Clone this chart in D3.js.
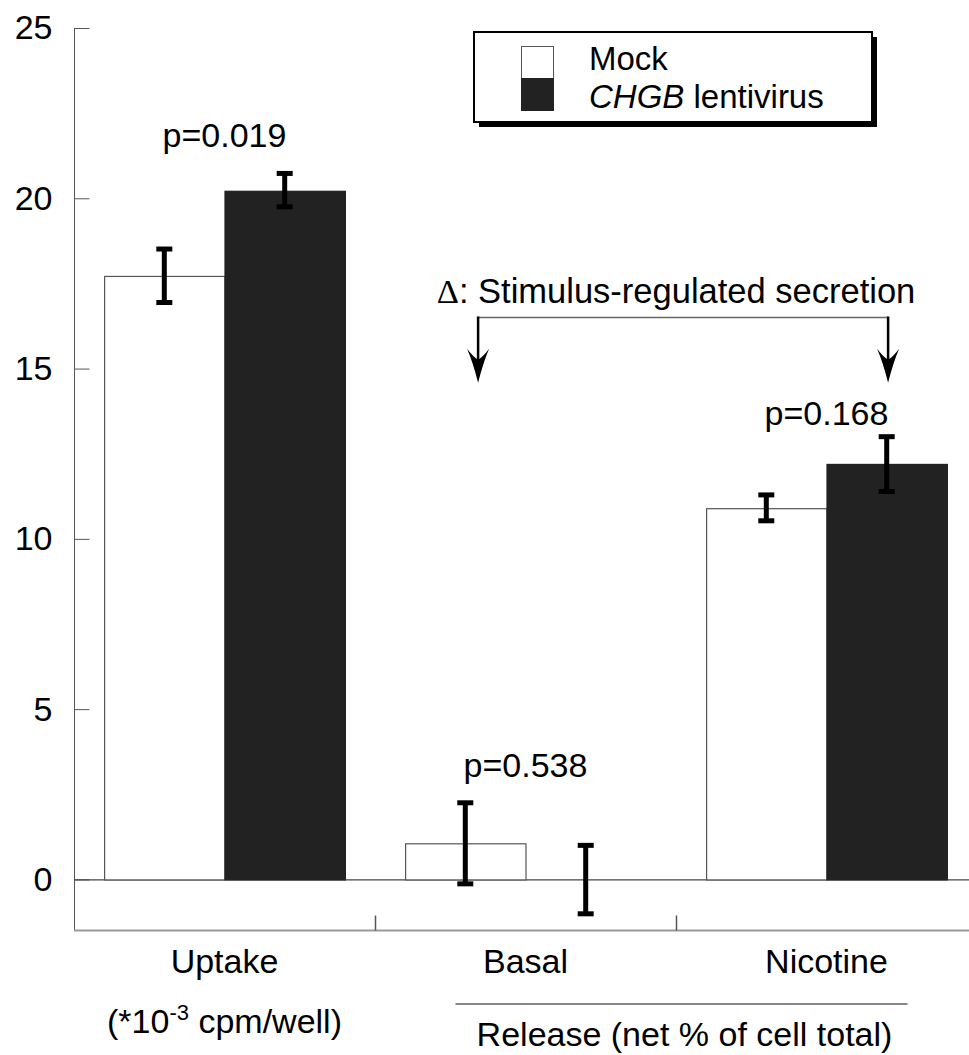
<!DOCTYPE html>
<html>
<head>
<meta charset="utf-8">
<script src="https://cdn.jsdelivr.net/npm/d3@7"></script>
<style>
  html, body { margin: 0; padding: 0; background: #fff; }
  svg { display: block; }
  text { font-family: "Liberation Sans", Arial, Helvetica, sans-serif; fill: #000; }
</style>
</head>
<body>
<div id="chart"></div>
<script>
// ---- data ----
const categories = ["Uptake", "Basal", "Nicotine"];
const seriesNames = ["Mock", "CHGB lentivirus"];
const mockValues = [17.72, 1.06, 10.9];
const mockErrLow = [16.94, -0.13, 10.53];
const mockErrHigh = [18.51, 2.25, 11.29];
const chgbValues = [20.22, 0.0, 12.2];
const chgbErrLow = [19.75, -1.01, 11.39];
const chgbErrHigh = [20.73, 1.0, 13.0];
const pValues = ["p=0.019", "p=0.538", "p=0.168"];
const yTicks = [0, 5, 10, 15, 20, 25];

// ---- layout ----
const W = 969, H = 1055;
const svg = d3.select("#chart").append("svg").attr("width", W).attr("height", H);

const x = d3.scaleBand().domain(categories).range([74, 977]).paddingInner(0.2).paddingOuter(0.1);
const xs = d3.scaleBand().domain(seriesNames).range([0, x.bandwidth()]);
const y = d3.scaleLinear().domain([-1.5, 25]).range([930.5, 28]);

const fontSize = 34;

// y axis
const yAxis = d3.axisLeft(y).tickValues(yTicks).tickSize(-15).tickPadding(22).tickSizeOuter(0);
const gy = svg.append("g").attr("transform", "translate(74.5,0)").call(yAxis);
gy.select(".domain").attr("stroke", "#555").attr("d", `M0,${y(25)}V${y(-1.5)}`);
gy.selectAll(".tick line").attr("stroke", "#555");
gy.selectAll(".tick text").attr("font-size", fontSize).attr("font-family", '"Liberation Sans", Arial, sans-serif').attr("fill", "#000");

// bottom axis line and separators
svg.append("line").attr("x1", 74).attr("x2", W).attr("y1", y(-1.5)).attr("y2", y(-1.5))
  .attr("stroke", "#999").attr("stroke-width", 2);
const seps = categories.slice(1).map(c => x(c) - x.step() * x.paddingInner() / 2);
svg.selectAll(".sep").data(seps).enter().append("line")
  .attr("x1", d => d + 0.5).attr("x2", d => d + 0.5)
  .attr("y1", y(-1.5)).attr("y2", y(-1.5) - 15)
  .attr("stroke", "#555").attr("stroke-width", 1.5);

// zero line
svg.append("line").attr("x1", 74).attr("x2", W).attr("y1", y(0) + 0.5).attr("y2", y(0) + 0.5)
  .attr("stroke", "#444").attr("stroke-width", 1.2);

// bars
const rows = categories.map((c, i) => ({
  cat: c,
  vals: [
    { s: seriesNames[0], v: mockValues[i], lo: mockErrLow[i], hi: mockErrHigh[i] },
    { s: seriesNames[1], v: chgbValues[i], lo: chgbErrLow[i], hi: chgbErrHigh[i] }
  ]
}));
const fills = { "Mock": "#fff", "CHGB lentivirus": "#222" };
const strokes = { "Mock": "#555", "CHGB lentivirus": "#222" };

const groups = svg.selectAll(".grp").data(rows).enter().append("g")
  .attr("transform", d => `translate(${x(d.cat)},0)`);

groups.selectAll("rect").data(d => d.vals.filter(v => v.v !== 0)).enter().append("rect")
  .attr("x", d => xs(d.s) + 0.5)
  .attr("width", xs.bandwidth())
  .attr("y", d => Math.min(y(d.v), y(0)) + 0.5)
  .attr("height", d => Math.abs(y(0) - y(d.v)))
  .attr("fill", d => fills[d.s])
  .attr("stroke", d => strokes[d.s])
  .attr("stroke-width", 1.2);

// error bars
const capW = 16;
const eb = groups.selectAll(".eb").data(d => d.vals).enter().append("g");
eb.append("line")
  .attr("x1", d => xs(d.s) + xs.bandwidth() / 2).attr("x2", d => xs(d.s) + xs.bandwidth() / 2)
  .attr("y1", d => y(d.hi)).attr("y2", d => y(d.lo))
  .attr("stroke", "#000").attr("stroke-width", 5);
["hi", "lo"].forEach(k => {
  eb.append("line")
    .attr("x1", d => xs(d.s) + xs.bandwidth() / 2 - capW / 2)
    .attr("x2", d => xs(d.s) + xs.bandwidth() / 2 + capW / 2)
    .attr("y1", d => y(d[k])).attr("y2", d => y(d[k]))
    .attr("stroke", "#000").attr("stroke-width", 5);
});

// p-values
const pAbove = [21.52, 3.0, 13.35];
svg.selectAll(".pv").data(categories).enter().append("text")
  .attr("x", d => x(d) + x.bandwidth() / 2)
  .attr("y", (d, i) => y(pAbove[i]))
  .attr("text-anchor", "middle").attr("font-size", fontSize)
  .text((d, i) => pValues[i]);

// category labels
svg.selectAll(".cl").data(categories).enter().append("text")
  .attr("x", d => x(d) + x.bandwidth() / 2)
  .attr("y", 973)
  .attr("text-anchor", "middle").attr("font-size", fontSize)
  .text(d => d);

// uptake unit
const ut = svg.append("text").attr("x", x("Uptake") + x.bandwidth() / 2).attr("y", 1033)
  .attr("text-anchor", "middle").attr("font-size", fontSize);
ut.append("tspan").text("(*10");
ut.append("tspan").attr("dy", -13).attr("font-size", 22).text("-3");
ut.append("tspan").attr("dy", 13).text(" cpm/well)");

// release bracket
const relX1 = x("Basal") + x.bandwidth() / 2 - 70;
const relX2 = x("Nicotine") + x.bandwidth() / 2 + 81;
svg.append("line").attr("x1", relX1).attr("x2", relX2).attr("y1", 1004).attr("y2", 1004)
  .attr("stroke", "#888").attr("stroke-width", 2);
svg.append("text").attr("x", (relX1 + relX2) / 2 + 3).attr("y", 1046)
  .attr("text-anchor", "middle").attr("font-size", fontSize)
  .text("Release (net % of cell total)");

// stimulus-regulated annotation
const annTopVal = 16.5, annTipVal = 14.58;
const arrowXs = [x("Basal") + 73, x("Nicotine") + 182];
const at = svg.append("text").attr("x", 676).attr("y", y(16.93))
  .attr("text-anchor", "middle").attr("font-size", 34.5);
at.append("tspan").attr("font-family", '"Liberation Serif", "DejaVu Serif", serif').text("\u0394");
at.append("tspan").text(": Stimulus-regulated secretion");
svg.append("line").attr("x1", arrowXs[0]).attr("x2", arrowXs[1])
  .attr("y1", y(annTopVal)).attr("y2", y(annTopVal))
  .attr("stroke", "#666").attr("stroke-width", 1.5);
arrowXs.forEach(ax => {
  const top = y(annTopVal), tip = y(annTipVal);
  svg.append("line").attr("x1", ax).attr("x2", ax).attr("y1", top - 1).attr("y2", tip - 14)
    .attr("stroke", "#000").attr("stroke-width", 2.5);
  svg.append("path")
    .attr("d", `M${ax},${tip} Q${ax - 5},${tip - 20} ${ax - 11},${tip - 34} Q${ax - 5},${tip - 26} ${ax},${tip - 23} Q${ax + 5},${tip - 26} ${ax + 11},${tip - 34} Q${ax + 5},${tip - 20} ${ax},${tip} Z`)
    .attr("fill", "#000");
});

// legend
const lg = svg.append("g");
lg.append("rect").attr("x", 479).attr("y", 37).attr("width", 398).attr("height", 90).attr("fill", "#000");
lg.append("rect").attr("x", 474).attr("y", 32).attr("width", 398).attr("height", 90)
  .attr("fill", "#fff").attr("stroke", "#000").attr("stroke-width", 2);
lg.append("rect").attr("x", 521.5).attr("y", 46.5).attr("width", 32).attr("height", 32)
  .attr("fill", fills["Mock"]).attr("stroke", "#555").attr("stroke-width", 1);
lg.append("rect").attr("x", 521.5).attr("y", 78.5).attr("width", 32).attr("height", 32)
  .attr("fill", fills["CHGB lentivirus"]).attr("stroke", "#222").attr("stroke-width", 1);
lg.append("text").attr("x", 589).attr("y", 70).attr("font-size", 33).text(seriesNames[0]);
const lt = lg.append("text").attr("x", 589).attr("y", 107.5).attr("font-size", 33);
lt.append("tspan").attr("font-style", "italic").text("CHGB");
lt.append("tspan").text(" lentivirus");
</script>
</body>
</html>
